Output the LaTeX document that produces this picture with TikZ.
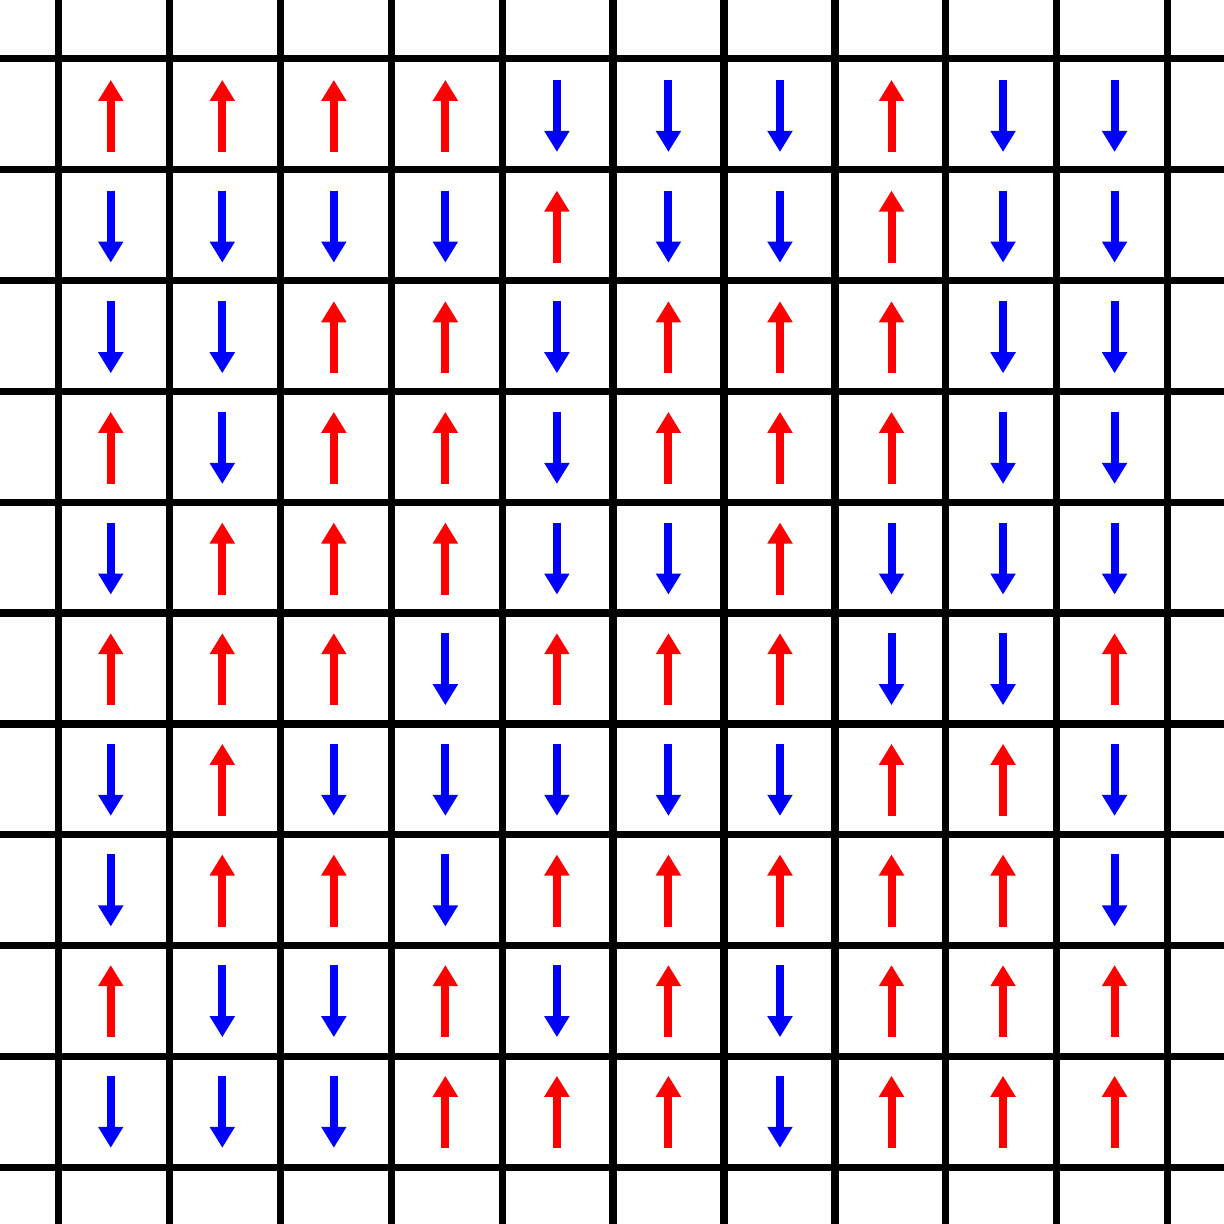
\documentclass[tikz,border=0pt]{standalone}
\usetikzlibrary{arrows.meta}
\begin{document}
\begin{tikzpicture}[%
    lattice/.style={line width=0.066cm, black},
    spin/.style={line width=0.072cm, -{Triangle[length=0.19cm,width=0.216cm]}},
    spinup/.style={spin, red},
    spindown/.style={spin, blue}
  ]

  \useasboundingbox (-0.53,-0.51) rectangle (10.51,10.53);

  % lattice lines
  \foreach \k in {0,...,10}{
    \draw[lattice] (\k,-0.6) -- (\k,10.6);
    \draw[lattice] (-0.6,\k) -- (10.6,\k);
  }

  % spins, top row first (1 = up, 0 = down)
  \foreach \row [count=\r] in {
      {1,1,1,1,0,0,0,1,0,0},
      {0,0,0,0,1,0,0,1,0,0},
      {0,0,1,1,0,1,1,1,0,0},
      {1,0,1,1,0,1,1,1,0,0},
      {0,1,1,1,0,0,1,0,0,0},
      {1,1,1,0,1,1,1,0,0,1},
      {0,1,0,0,0,0,0,1,1,0},
      {0,1,1,0,1,1,1,1,1,0},
      {1,0,0,1,0,1,0,1,1,1},
      {0,0,0,1,1,1,0,1,1,1}}{
    \foreach \s [count=\c] in \row {
      \coordinate (site-\r-\c) at (1.006*\c-0.537,10.482-0.998*\r);
      \ifnum\s=1
        \draw[spinup] ([yshift=-0.325cm]site-\r-\c) -- ++(0,0.65);
      \else
        \draw[spindown] ([yshift=0.325cm]site-\r-\c) -- ++(0,-0.65);
      \fi
    }
  }

\end{tikzpicture}
\end{document}
